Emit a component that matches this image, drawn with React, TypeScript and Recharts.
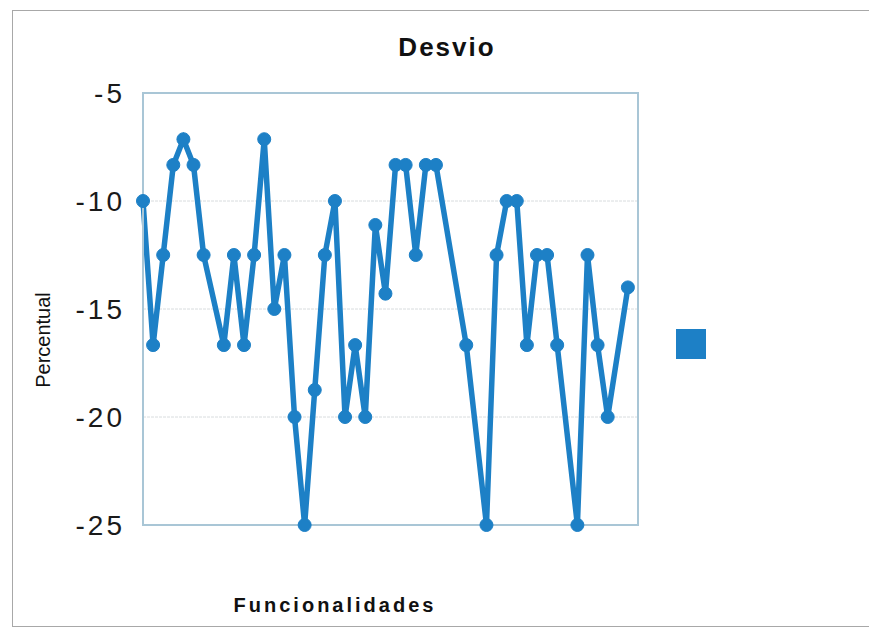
import { LineChart, Line, XAxis, YAxis, CartesianGrid, ReferenceArea, Label } from 'recharts';

// one entry per funcionalidade (no tick labels are shown on the chart)
const funcionalidades = [
  1, 2, 3, 4, 5, 6, 7, 8, 9, 10,
  11, 12, 13, 14, 15, 16, 17, 18, 19, 20,
  21, 22, 23, 24, 25, 26, 27, 28, 29, 30,
  31, 32, 33, 34, 35, 36, 37, 38, 39, 40,
  41, 42, 43, 44, 45, 46, 47, 48, 49, 50,
];

// desvio (%); null where no point is drawn
const desvio = [
  -10, -16.67, -12.5, -8.33, -7.14, -8.33, -12.5, null, -16.67, -12.5,
  -16.67, -12.5, -7.14, -15, -12.5, -20, -25, -18.75, -12.5, -10,
  -20, -16.67, -20, -11.11, -14.29, -8.33, -8.33, -12.5, -8.33, -8.33,
  null, null, -16.67, null, -25, -12.5, -10, -10, -16.67, -12.5,
  -12.5, -16.67, null, -25, -12.5, -16.67, -20, null, -14, null,
];

const yTicks = [-25, -20, -15, -10, -5];

const data = funcionalidades.map((f, i) => ({ funcionalidade: f, desvio: desvio[i] }));

const BLUE = '#1d80c6';
const FRAME = '#a9c6d6';
const FONT = '"Liberation Sans", Arial, sans-serif';

export default function App() {
  return (
    <div
      style={{
        position: 'relative',
        width: 877,
        height: 636,
        margin: -8,
        background: '#fff',
        fontFamily: FONT,
      }}
    >
      <div
        style={{
          position: 'absolute',
          left: 12,
          top: 10,
          width: 859,
          height: 617,
          border: '1px solid #a8a8a8',
          boxSizing: 'border-box',
          zIndex: 2,
          pointerEvents: 'none',
        }}
      />
      <div
        style={{
          position: 'absolute',
          left: 347,
          top: 32,
          width: 200,
          textAlign: 'center',
          fontSize: 26,
          fontWeight: 'bold',
          letterSpacing: 2,
          color: '#111',
        }}
      >
        Desvio
      </div>
      <LineChart
        width={877}
        height={636}
        data={data}
        margin={{ top: 93, right: 239, bottom: 81, left: 0 }}
      >
        <CartesianGrid vertical={false} stroke="#d8dcde" strokeDasharray="3 1" />
        <ReferenceArea
          x1={1}
          x2={50}
          y1={-25}
          y2={-5}
          fill="none"
          stroke={FRAME}
          strokeWidth={2}
          ifOverflow="visible"
        />
        <XAxis
          dataKey="funcionalidade"
          interval={0}
          tick={false}
          tickSize={4}
          tickLine={{ stroke: FRAME }}
          axisLine={{ stroke: FRAME, strokeWidth: 2 }}
          height={30}
        >
          <Label
            content={() => (
              <text
                x={335}
                y={612}
                textAnchor="middle"
                fontFamily={FONT}
                fontSize={20}
                fontWeight="bold"
                letterSpacing={3}
                fill="#111"
              >
                Funcionalidades
              </text>
            )}
          />
        </XAxis>
        <YAxis
          width={143}
          domain={[-25, -5]}
          ticks={yTicks}
          interval={0}
          tickSize={0}
          tickMargin={18}
          axisLine={{ stroke: FRAME, strokeWidth: 2 }}
          tick={{ fill: '#1a1a1a', fontSize: 28, letterSpacing: 3, fontFamily: FONT }}
        >
          <Label
            content={() => (
              <text
                x={50}
                y={340}
                transform="rotate(-90 50 340)"
                textAnchor="middle"
                fontFamily={FONT}
                fontSize={20}
                fill="#111"
              >
                Percentual
              </text>
            )}
          />
        </YAxis>
        <Line
          type="linear"
          dataKey="desvio"
          stroke={BLUE}
          strokeWidth={5.5}
          connectNulls
          dot={{ r: 6.5, fill: BLUE, stroke: BLUE, strokeWidth: 1 }}
          activeDot={false}
          isAnimationActive={false}
        />
      </LineChart>
      <div
        style={{
          position: 'absolute',
          left: 676,
          top: 329,
          width: 30,
          height: 30,
          background: BLUE,
        }}
      />
    </div>
  );
}
